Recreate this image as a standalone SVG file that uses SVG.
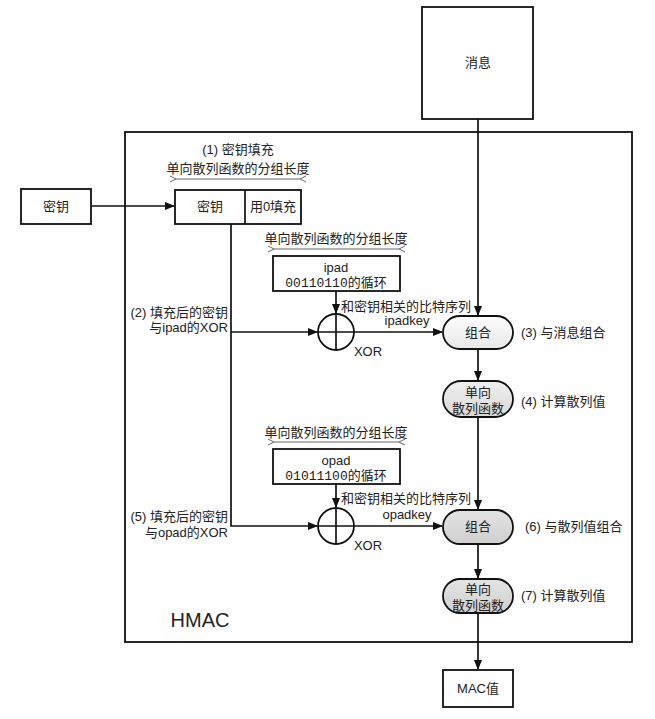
<svg xmlns="http://www.w3.org/2000/svg" width="655" height="719" viewBox="0 0 655 719">
<style>
.t{font-family:"Liberation Sans","Noto Sans CJK SC",sans-serif;font-size:13px;fill:#222}
.m{font-family:"Liberation Mono","Noto Sans CJK SC",monospace;font-size:13px;fill:#222}
.box{fill:#fff;stroke:#111;stroke-width:1.8}
.ln{fill:none;stroke:#111;stroke-width:1.7}
.thin{fill:none;stroke:#555;stroke-width:0.9}
.c{text-anchor:middle}
.e{text-anchor:end}
</style>
<defs>
<marker id="ah" markerWidth="10" markerHeight="8" refX="9" refY="4" orient="auto" markerUnits="userSpaceOnUse">
<path d="M0,0 L10,4 L0,8 Z" fill="#111"/>
</marker>
<marker id="oa" markerWidth="8" markerHeight="8" refX="1" refY="4" orient="auto-start-reverse" markerUnits="userSpaceOnUse">
<path d="M7,1 L1,4 L7,7" fill="none" stroke="#555" stroke-width="0.9"/>
</marker>
<linearGradient id="g1" x1="0" y1="0" x2="0" y2="1"><stop offset="0" stop-color="#fdfdfd"/><stop offset="1" stop-color="#e8e8e8"/></linearGradient>
<linearGradient id="g2" x1="0" y1="0" x2="0" y2="1"><stop offset="0" stop-color="#f0f0f0"/><stop offset="1" stop-color="#d8d8d8"/></linearGradient>
<linearGradient id="g3" x1="0" y1="0" x2="0" y2="1"><stop offset="0" stop-color="#e4e4e4"/><stop offset="1" stop-color="#cfcfcf"/></linearGradient>
</defs>
<rect width="655" height="719" fill="#fff"/>

<g id="hmac">
<rect x="125" y="132" width="507" height="510" class="box" fill="none"/>
<text x="200" y="627" class="t c" style="font-size:20px">HMAC</text>
</g>

<g id="message">
<rect x="422" y="7" width="111" height="112" class="box"/>
<text x="478" y="67" class="t c">消息</text>
</g>

<g id="key">
<rect x="21" y="189" width="70" height="35" class="box"/>
<text x="56" y="211" class="t c">密钥</text>
</g>

<g id="padded-key">
<text x="238" y="154" class="t c">(1) 密钥填充</text>
<text x="238" y="173" class="t c">单向散列函数的分组长度</text>
<line x1="176" y1="179" x2="300" y2="179" class="thin" marker-start="url(#oa)" marker-end="url(#oa)"/>
<rect x="175" y="190" width="126" height="34" class="box"/>
<line x1="245" y1="190" x2="245" y2="224" class="ln"/>
<text x="210" y="211" class="t c">密钥</text>
<text x="273" y="211" class="t c">用0填充</text>
</g>

<g id="ipad">
<text x="336" y="243" class="t c">单向散列函数的分组长度</text>
<line x1="274" y1="249" x2="399" y2="249" class="thin" marker-start="url(#oa)" marker-end="url(#oa)"/>
<rect x="273" y="256" width="127" height="35" class="box"/>
<text x="336" y="272" class="t c">ipad</text>
<text x="336" y="287" class="m c">00110110的循环</text>
</g>

<g id="xor1">
<circle cx="336" cy="332" r="18" class="box"/>
<line x1="336" y1="314" x2="336" y2="350" class="ln"/>
<line x1="318" y1="332" x2="354" y2="332" class="ln"/>
<text x="368" y="356" class="t c">XOR</text>
</g>

<g id="combine1">
<rect x="443" y="316" width="70" height="33" rx="16.5" fill="url(#g1)" stroke="#111" stroke-width="1.8"/>
<text x="478" y="337" class="t c">组合</text>
<text x="521" y="337" class="t">(3) 与消息组合</text>
</g>

<g id="hash1">
<rect x="443" y="381" width="70" height="36" rx="18" fill="url(#g2)" stroke="#111" stroke-width="1.8"/>
<text x="478" y="397" class="t c">单向</text>
<text x="478" y="413" class="t c">散列函数</text>
<text x="521" y="406" class="t">(4) 计算散列值</text>
</g>

<g id="opad">
<text x="336" y="437" class="t c">单向散列函数的分组长度</text>
<line x1="274" y1="442" x2="399" y2="442" class="thin" marker-start="url(#oa)" marker-end="url(#oa)"/>
<rect x="273" y="449" width="127" height="35" class="box"/>
<text x="336" y="465" class="t c">opad</text>
<text x="336" y="480" class="m c">01011100的循环</text>
</g>

<g id="xor2">
<circle cx="336" cy="526" r="18" class="box"/>
<line x1="336" y1="508" x2="336" y2="544" class="ln"/>
<line x1="318" y1="526" x2="354" y2="526" class="ln"/>
<text x="368" y="550" class="t c">XOR</text>
</g>

<g id="combine2">
<rect x="443" y="510" width="70" height="34" rx="17" fill="url(#g3)" stroke="#111" stroke-width="1.8"/>
<text x="478" y="531" class="t c">组合</text>
<text x="525" y="531" class="t">(6) 与散列值组合</text>
</g>

<g id="hash2">
<rect x="443" y="579" width="70" height="34" rx="17" fill="url(#g3)" stroke="#111" stroke-width="1.8"/>
<text x="478" y="594" class="t c">单向</text>
<text x="478" y="610" class="t c">散列函数</text>
<text x="521" y="600" class="t">(7) 计算散列值</text>
</g>

<g id="mac">
<rect x="443" y="670" width="70" height="37" class="box"/>
<text x="478" y="693" class="t c">MAC值</text>
</g>

<g id="labels">
<text x="228" y="317" class="t e">(2) 填充后的密钥</text>
<text x="228" y="332" class="t e">与ipad的XOR</text>
<text x="341" y="311" class="t">和密钥相关的比特序列</text>
<text x="407" y="325" class="t c">ipadkey</text>
<text x="228" y="521" class="t e">(5) 填充后的密钥</text>
<text x="228" y="537" class="t e">与opad的XOR</text>
<text x="341" y="503" class="t">和密钥相关的比特序列</text>
<text x="407" y="519" class="t c">opadkey</text>
</g>

<g id="connectors">
<line x1="91" y1="206" x2="174" y2="206" class="ln" marker-end="url(#ah)"/>
<polyline points="231,224 231,526 317,526" class="ln" marker-end="url(#ah)"/>
<line x1="231" y1="332" x2="317" y2="332" class="ln" marker-end="url(#ah)"/>
<line x1="336" y1="291" x2="336" y2="313" class="ln" marker-end="url(#ah)"/>
<line x1="336" y1="484" x2="336" y2="507" class="ln" marker-end="url(#ah)"/>
<line x1="354" y1="332" x2="442" y2="332" class="ln" marker-end="url(#ah)"/>
<line x1="354" y1="526" x2="442" y2="526" class="ln" marker-end="url(#ah)"/>
<line x1="478" y1="119" x2="478" y2="315" class="ln" marker-end="url(#ah)"/>
<line x1="478" y1="349" x2="478" y2="380" class="ln" marker-end="url(#ah)"/>
<line x1="478" y1="417" x2="478" y2="509" class="ln" marker-end="url(#ah)"/>
<line x1="478" y1="544" x2="478" y2="578" class="ln" marker-end="url(#ah)"/>
<line x1="478" y1="613" x2="478" y2="669" class="ln" marker-end="url(#ah)"/>
</g>
</svg>
